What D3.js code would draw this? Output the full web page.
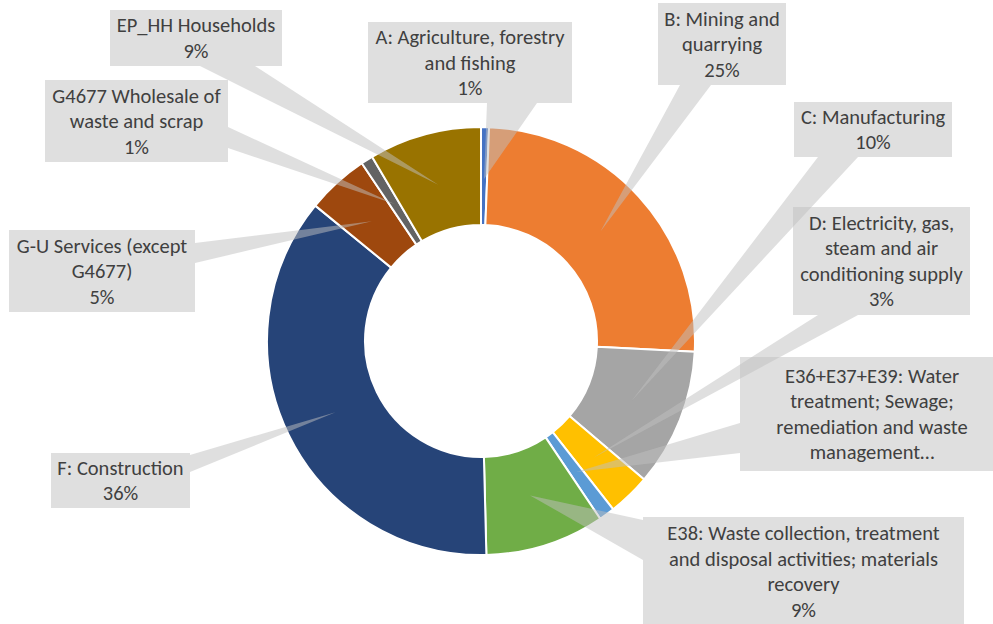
<!DOCTYPE html>
<html>
<head>
<meta charset="utf-8">
<script src="https://cdn.jsdelivr.net/npm/d3@7"></script>
<style>
  html, body { margin: 0; padding: 0; background: #fff; }
  svg { display: block; }
  .lbl { font-family: Calibri, Carlito, Lato, "Open Sans", sans-serif; font-size: 20.5px; fill: #404040; }
</style>
</head>
<body>
<svg id="chart" width="993" height="624"></svg>
<script>
// Share of each activity (percent), clockwise from 12 o'clock
const categories = [
  "A: Agriculture, forestry and fishing",
  "B: Mining and quarrying",
  "C: Manufacturing",
  "D: Electricity, gas, steam and air conditioning supply",
  "E36+E37+E39: Water treatment; Sewage; remediation and waste management",
  "E38: Waste collection, treatment and disposal activities; materials recovery",
  "F: Construction",
  "G-U Services (except G4677)",
  "G4677 Wholesale of waste and scrap",
  "EP_HH Households"
];
const shares = [0.6, 25.2, 10.4, 3.2, 1.2, 9.0, 36.3, 4.7, 0.9, 8.5];
const colors = ["#4472C4", "#ED7D31", "#A5A5A5", "#FFC000", "#5B9BD5",
                "#70AD47", "#264478", "#9E480E", "#636363", "#997300"];

// Wrapped label text; the percentage line is added from the share
const labelLines = [
  ["A: Agriculture, forestry", "and fishing"],
  ["B: Mining and", "quarrying"],
  ["C: Manufacturing"],
  ["D: Electricity, gas,", "steam and air", "conditioning supply"],
  ["E36+E37+E39: Water", "treatment; Sewage;", "remediation and waste", "management\u2026"],
  ["E38: Waste collection, treatment", "and disposal activities; materials", "recovery"],
  ["F: Construction"],
  ["G-U Services (except", "G4677)"],
  ["G4677 Wholesale of", "waste and scrap"],
  ["EP_HH Households"]
];
const showPercent = [true, true, true, true, false, true, true, true, true, true];

// Callout boxes: [x0, y0, x1, y1], and the box side the pointer leaves from with its span
const calloutBoxes = [
  [368, 22, 572, 103],
  [658, 3, 786, 85],
  [794, 102, 952, 157],
  [793, 207, 970, 315],
  [740, 357, 1004, 471],
  [643, 517, 964, 626],
  [51, 453, 190, 508],
  [9, 230, 195, 312],
  [45, 80, 228, 162],
  [110, 10, 282, 66]
];
const calloutBase = [
  ["bottom", 487, 537],
  ["bottom", 680, 711],
  ["bottom", 818, 858],
  ["bottom", 818, 858],
  ["left", 423, 453],
  ["left", 520, 560],
  ["right", 455, 472],
  ["right", 243, 263],
  ["right", 127, 148],
  ["bottom", 200, 255]
];

const cx = 481, cy = 341, rOuter = 214, rInner = 116, rTip = 162;
const lineH = 25.5;

const svg = d3.select("#chart");
const total = d3.sum(shares);
const pct = v => Math.round(v / total * 100) + "%";

const pie = d3.pie().sort(null).value(d => d.value);
const arcs = pie(shares.map((v, i) => ({ value: v, i })));

const arc = d3.arc().innerRadius(rInner).outerRadius(rOuter);
const tipArc = d3.arc().innerRadius(rTip).outerRadius(rTip);

const g = svg.append("g").attr("transform", `translate(${cx},${cy})`);
g.selectAll("path.slice")
  .data(arcs)
  .join("path")
  .attr("class", "slice")
  .attr("d", arc)
  .attr("fill", d => colors[d.data.i])
  .attr("stroke", "#fff")
  .attr("stroke-width", 2)
  .attr("stroke-linejoin", "round");

// Callout shape: box outline with a pointer detour to the slice
function calloutPath(box, base, tip) {
  const [x0, y0, x1, y1] = box;
  const [side, a, b] = base;
  let pts;
  if (side === "bottom") {
    pts = [[x0, y0], [x1, y0], [x1, y1], [b, y1], tip, [a, y1], [x0, y1]];
  } else if (side === "right") {
    pts = [[x0, y0], [x1, y0], [x1, a], tip, [x1, b], [x1, y1], [x0, y1]];
  } else if (side === "left") {
    pts = [[x0, y0], [x1, y0], [x1, y1], [x0, y1], [x0, b], tip, [x0, a]];
  } else {
    pts = [[x0, y0], [a, y0], tip, [b, y0], [x1, y0], [x1, y1], [x0, y1]];
  }
  return "M" + pts.map(p => p.join(",")).join("L") + "Z";
}

const callouts = svg.append("g");
arcs.forEach(d => {
  const i = d.data.i;
  const c = tipArc.centroid(d);
  const tip = [cx + c[0], cy + c[1]];
  callouts.append("path")
    .attr("d", calloutPath(calloutBoxes[i], calloutBase[i], tip))
    .attr("fill", "#BFBFBF")
    .attr("fill-opacity", 0.5);

  const lines = labelLines[i].slice();
  if (showPercent[i]) lines.push(pct(d.data.value));
  const [x0, y0, x1, y1] = calloutBoxes[i];
  const mx = (x0 + x1) / 2, my = (y0 + y1) / 2;
  const t = callouts.append("text")
    .attr("class", "lbl")
    .attr("text-anchor", "middle");
  lines.forEach((s, k) => {
    t.append("tspan")
      .attr("x", mx)
      .attr("y", my + (k - (lines.length - 1) / 2) * lineH)
      .attr("dy", "0.35em")
      .text(s);
  });
});
</script>
</body>
</html>
